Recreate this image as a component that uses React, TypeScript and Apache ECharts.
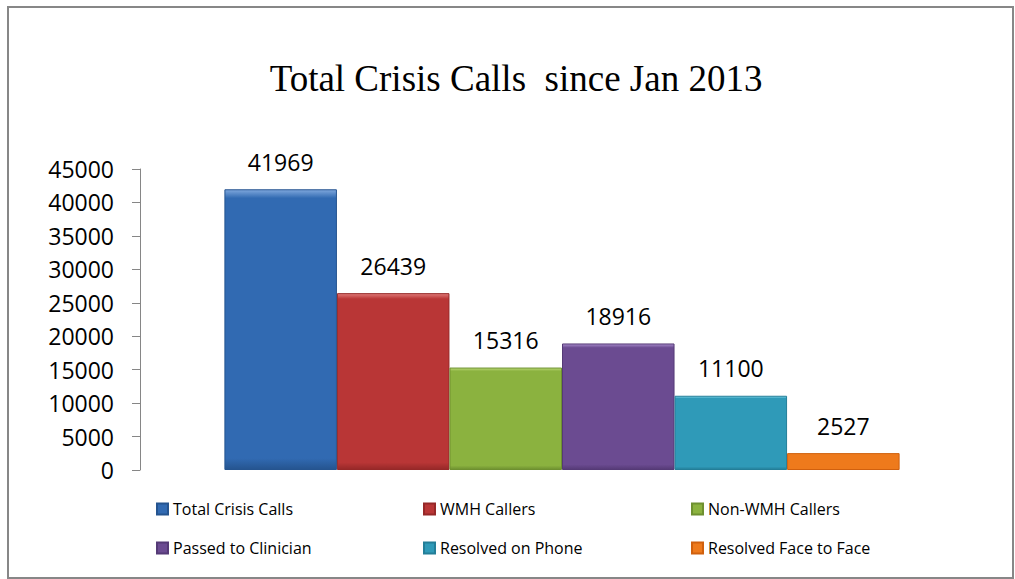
import React, { useEffect, useRef } from "react";
import * as echarts from "echarts";

const titleText = "Total Crisis Calls  since Jan 2013";
const seriesNames = [
  "Total Crisis Calls",
  "WMH Callers",
  "Non-WMH Callers",
  "Passed to Clinician",
  "Resolved on Phone",
  "Resolved Face to Face",
];
const seriesValues = [41969, 26439, 15316, 18916, 11100, 2527];
const yMin = 0;
const yMax = 45000;
const yInterval = 5000;

const mainColors = ["#316AB2", "#B93636", "#8BB23F", "#6B4B91", "#2F9AB8", "#EE7A1C"];
const lightColors = ["#7FA8DD", "#E07A78", "#BEDB7A", "#A78BCB", "#7FD6EA", "#FFB35C"];
const darkColors = ["#25548F", "#962828", "#6E9030", "#553A76", "#237E98", "#D0600E"];

const legendLefts = [156, 423, 691, 156, 423, 691];
const legendTops = [500, 500, 500, 539, 539, 539];

const FONT = "'Open Sans', 'Liberation Sans', sans-serif";

export default function App() {
  const ref = useRef<HTMLDivElement>(null);
  useEffect(() => {
    if (!ref.current) return;
    const chart = echarts.init(ref.current, null, { renderer: "svg" });
    const series = seriesNames.map((name, i) => ({
      name,
      type: "bar",
      data: [seriesValues[i]],
      barGap: "0%",
      barCategoryGap: "20%",
      itemStyle: {
        color: new echarts.graphic.LinearGradient(0, 0, 0, 1, [
          { offset: 0, color: lightColors[i] },
          { offset: 0.03, color: mainColors[i] },
          { offset: 0.96, color: mainColors[i] },
          { offset: 1, color: darkColors[i] },
        ]),
        borderColor: darkColors[i],
        borderWidth: 1,
      },
      label: {
        show: true,
        position: "top",
        distance: 16,
        color: "#000",
        fontFamily: FONT,
        fontSize: 23,
      },
    }));
    const legends = seriesNames.map((name, i) => ({
      data: [name],
      left: legendLefts[i],
      top: legendTops[i],
      padding: 0,
      itemWidth: 11,
      itemHeight: 11,
      icon: "rect",
      textStyle: { fontFamily: FONT, fontSize: 16, color: "#000", lineHeight: 18 },
    }));
    chart.setOption({
      animation: false,
      backgroundColor: "#fff",
      title: {
        text: titleText,
        left: 511,
        top: 55,
        textAlign: "center",
        textStyle: {
          fontFamily: "'Liberation Serif', 'Times New Roman', serif",
          fontSize: 37,
          fontWeight: "normal",
          color: "#000",
        },
      },
      graphic: [
        {
          type: "rect",
          shape: { x: 8, y: 7, width: 1005, height: 571 },
          style: { fill: "none", stroke: "#878787", lineWidth: 2 },
          silent: true,
        },
      ],
      legend: legends,
      grid: { left: 140, right: 31, top: 169, bottom: 109, containLabel: false },
      xAxis: {
        type: "category",
        data: [""],
        axisLine: { show: false },
        axisTick: { show: false },
        axisLabel: { show: false },
      },
      yAxis: {
        type: "value",
        min: yMin,
        max: yMax,
        interval: yInterval,
        splitLine: { show: false },
        axisLine: { show: true, lineStyle: { color: "#868686", width: 1 } },
        axisTick: { show: true, length: 8, lineStyle: { color: "#868686" } },
        axisLabel: {
          margin: 26,
          color: "#000",
          fontFamily: FONT,
          fontSize: 23,
          formatter: (v: number) => String(v),
        },
      },
      series,
    });
    return () => chart.dispose();
  }, []);
  return (
    <div
      ref={ref}
      style={{ position: "absolute", left: 0, top: 0, width: 1015, height: 579 }}
    />
  );
}
